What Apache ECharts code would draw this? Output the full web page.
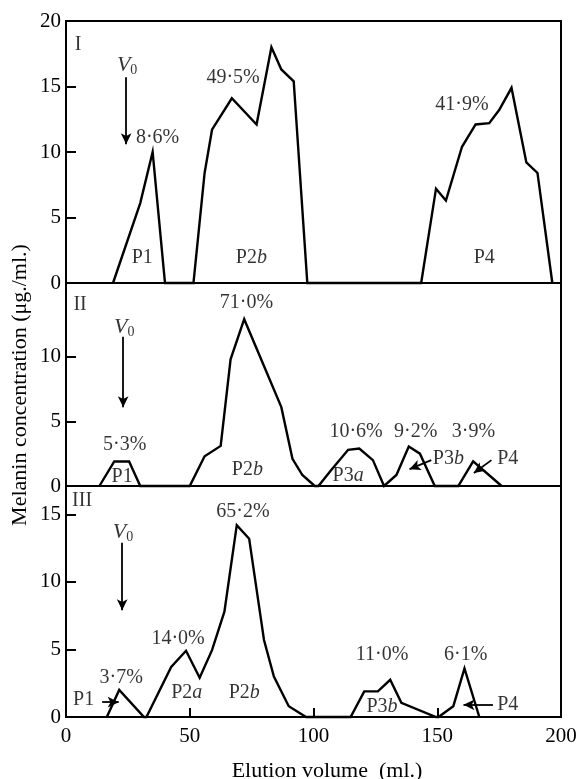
<!DOCTYPE html>
<html><head><meta charset="utf-8">
<script src="https://cdn.jsdelivr.net/npm/echarts@6/dist/echarts.min.js"></script>
<style>html,body{margin:0;padding:0;background:#fff}#c{width:577px;height:779px}</style>
</head><body><div id="c"></div>
<script>
// ---- axis tick values ----
const xTicks = [0, 50, 100, 150, 200];
const xInnerTicks = [50, 100, 150];
const yTicks1 = [0, 5, 10, 15, 20];
const yTicks2 = [0, 5, 10];
const yTicks3 = [0, 5, 10, 15];

// ---- Panel I (elution volume ml, melanin ug/ml) ----
const vol1  = [19, 30, 35, 40, 51.5, 56, 59, 67, 77, 83, 87, 92, 97.5, 143.5, 149.5, 153.5, 160, 165.5, 171, 175, 180, 186, 190.5, 196.5];
const conc1 = [0, 6.1, 10.0, 0, 0, 8.4, 11.7, 14.1, 12.1, 18.0, 16.3, 15.4, 0, 0, 7.2, 6.3, 10.4, 12.1, 12.2, 13.2, 14.9, 9.2, 8.4, 0];

// ---- Panel II ----
const vol2  = [13.5, 19.5, 25.5, 30, 50, 56, 62.5, 66.5, 72, 87, 91.5, 95.5, 100.5, 102, 107, 114, 118.5, 124, 128.5, 133.5, 138.5, 143, 149, 158.5, 164.5, 176];
const conc2 = [0, 1.9, 1.9, 0, 0, 2.3, 3.1, 9.8, 12.9, 6.1, 2.1, 0.85, 0, 0, 1.2, 2.8, 2.9, 2.0, 0, 0.85, 3.05, 2.5, 0, 0, 1.9, 0];

// ---- Panel III ----
const vol3  = [16.5, 21.5, 31.5, 32.5, 42.5, 48.5, 54, 59, 64, 69, 74, 80, 84, 90, 97, 115, 120.5, 126, 131, 135.5, 149.5, 150.5, 156.5, 161, 167];
const conc3 = [0, 2.0, 0, 0, 3.7, 4.9, 2.9, 4.95, 7.8, 14.2, 13.2, 5.7, 3.0, 0.8, 0, 0, 1.9, 1.9, 2.75, 1.05, 0, 0, 0.8, 3.6, 0];

// ---- annotation texts (text, volume, concentration) ----
const notes1 = [
  ['{t|I}', 4.9, 18.2],
  ['{v|V}{s|0}', 24.7, 16.6],
  ['{t|8·6%}', 37, 11.1],
  ['{t|49·5%}', 67.5, 15.7],
  ['{t|41·9%}', 160, 13.6],
  ['{t|P1}', 30.8, 1.9],
  ['{t|P2}{i|b}', 74.9, 1.9],
  ['{t|P4}', 169, 1.9]
];
const notes2 = [
  ['{t|II}', 5.7, 14.0],
  ['{v|V}{s|0}', 23.5, 12.3],
  ['{t|71·0%}', 72.9, 14.2],
  ['{t|5·3%}', 23.7, 3.2],
  ['{t|P1}', 22.7, 0.7],
  ['{t|P2}{i|b}', 73.3, 1.25],
  ['{t|10·6%}', 117.2, 4.2],
  ['{t|9·2%}', 141.3, 4.2],
  ['{t|3·9%}', 164.6, 4.2],
  ['{t|P3}{i|a}', 114, 0.8],
  ['{t|P3}{i|b}', 154.5, 2.1],
  ['{t|P4}', 178.5, 2.1]
];
const notes3 = [
  ['{t|III}', 6.5, 16.0],
  ['{v|V}{s|0}', 23, 13.7],
  ['{t|65·2%}', 71.5, 15.2],
  ['{t|14·0%}', 45.3, 5.8],
  ['{t|3·7%}', 22.3, 2.9],
  ['{t|P1}', 7.1, 1.25],
  ['{t|P2}{i|a}', 48.8, 1.8],
  ['{t|P2}{i|b}', 72, 1.8],
  ['{t|11·0%}', 127.7, 4.6],
  ['{t|6·1%}', 161.5, 4.6],
  ['{t|P3}{i|b}', 127.7, 0.75],
  ['{t|P4}', 178.5, 0.9]
];
// arrows: [fromVol, fromConc, toVol, toConc]
const arrows1 = [[24.3, 15.7, 24.3, 10.6]];
const arrows2 = [[23.1, 11.55, 23.1, 6.1], [147.6, 2.0, 138.8, 1.3], [171.9, 2.0, 164.8, 1.0]];
const arrows3 = [[22.7, 12.9, 22.7, 7.9], [14.6, 1.1, 21.3, 1.1], [172.5, 0.9, 160.6, 0.9]];

const FONT = 'Liberation Serif';
const rich = {
  t: {fontFamily: FONT, fontSize: 20, color: '#000'},
  i: {fontFamily: FONT, fontSize: 20, fontStyle: 'italic', color: '#000'},
  v: {fontFamily: FONT, fontSize: 22, fontStyle: 'italic', color: '#000'},
  s: {fontFamily: FONT, fontSize: 14, color: '#000', padding: [10, 0, 0, 0]}
};

const grids = [
  {left: 66, right: 16, top: 21, height: 262},
  {left: 66, right: 16, top: 283, height: 203},
  {left: 66, right: 16, top: 486, height: 231}
];
const yMax = [20, 15.7, 17.1];
const yVals = [yTicks1, yTicks2, yTicks3];

const chart = echarts.init(document.getElementById('c'), null, {renderer: 'canvas'});

const option = {
  backgroundColor: '#fff',
  animation: false,
  grid: grids.map(g => Object.assign({show: true, borderColor: '#000', borderWidth: 2, backgroundColor: 'transparent', containLabel: false, outerBoundsMode: 'none'}, g)),
  xAxis: [0, 1, 2].map(i => ({
    type: 'value', gridIndex: i, min: 0, max: 200, interval: 50,
    axisLine: {show: true, onZero: false, lineStyle: {color: '#000', width: 2}},
    axisTick: {show: i === 2, inside: true, length: 9, lineStyle: {color: '#000', width: 2}, customValues: xInnerTicks},
    axisLabel: {show: i === 2, color: '#000', fontFamily: FONT, fontSize: 21, margin: 9, customValues: xTicks, hideOverlap: false},
    splitLine: {show: false}
  })),
  yAxis: [0, 1, 2].map(i => ({
    type: 'value', gridIndex: i, min: 0, max: yMax[i],
    axisLine: {show: true, onZero: false, lineStyle: {color: '#000', width: 2}},
    axisTick: {show: true, inside: true, length: 10, lineStyle: {color: '#000', width: 2}, customValues: yVals[i]},
    axisLabel: {show: true, color: '#000', fontFamily: FONT, fontSize: 21, margin: 5, customValues: yVals[i]},
    splitLine: {show: false}
  })),
  graphic: [
    {type: 'text', x: 20, y: 385, rotation: Math.PI / 2,
     style: {text: 'Melanin concentration (μg./ml.)', fontFamily: FONT, fontSize: 22, fill: '#000', align: 'center', verticalAlign: 'middle'}},
    {type: 'text', x: 327, y: 771,
     style: {text: 'Elution volume  (ml.)', fontFamily: FONT, fontSize: 22, fill: '#000', align: 'center', verticalAlign: 'middle'}}
  ],
  series: []
};

const vols = [vol1, vol2, vol3];
const concs = [conc1, conc2, conc3];
const notes = [notes1, notes2, notes3];
const arrows = [arrows1, arrows2, arrows3];

for (let i = 0; i < 3; i++) {
  option.series.push({
    type: 'line', xAxisIndex: i, yAxisIndex: i,
    data: vols[i].map((v, k) => [v, concs[i][k]]),
    showSymbol: false, symbol: 'none', clip: false,
    lineStyle: {color: '#000', width: 2.4, join: 'miter'},
    z: 3
  });
  option.series.push({
    type: 'scatter', xAxisIndex: i, yAxisIndex: i,
    symbolSize: 0, silent: true,
    data: notes[i].map(n => ({value: [n[1], n[2]], txt: n[0]})),
    label: {show: true, position: 'inside', formatter: p => p.data.txt, rich: rich},
    markLine: {
      silent: true, symbol: ['none', 'arrow'], symbolSize: [8, 11], precision: 4,
      lineStyle: {color: '#000', width: 1.8, type: 'solid'},
      label: {show: false},
      data: arrows[i].map(a => [{coord: [a[0], a[1]]}, {coord: [a[2], a[3]]}])
    },
    z: 4
  });
}

chart.setOption(option);
</script>
</body></html>
